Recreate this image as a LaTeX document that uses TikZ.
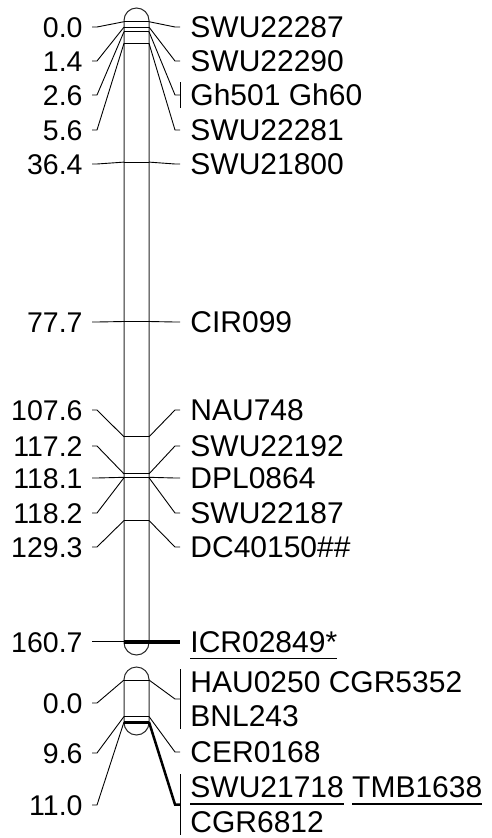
\documentclass[tikz,border=0pt]{standalone}
\usepackage{fontspec}
\newfontfamily\mapfont{Liberation Sans}
\usetikzlibrary{calc}
\newsavebox{\ulbox}
\newcommand{\ulmark}[1]{\sbox{\ulbox}{#1}\rlap{\rule[-7pt]{\wd\ulbox}{1.2pt}}\usebox{\ulbox}}

\begin{document}
\begin{tikzpicture}[x=1pt, y=-1pt, line width=0.9pt,
    chrom/.style={draw=black!85, line width=1pt, rounded corners=12.5pt},
    lab/.style={inner ysep=2pt, text height=21pt, text depth=0pt},
    leftlab/.style={lab, font=\mapfont\fontsize{28.5}{34}\selectfont, anchor=east, inner xsep=9pt},
    rightlab/.style={lab, font=\mapfont\fontsize{30}{34}\selectfont, anchor=west, inner xsep=10pt}]
    \useasboundingbox (0,0) rectangle (491,838);

    % chromosomes
    \draw[chrom] (124,8) rectangle (149,655);
    \draw[chrom] (124,667) rectangle (149,735);

    % marker positions on the bars
    \foreach \m/\y in {a/21.7, b/27.1, c/31.7, d/43.3, e/162.1, f/321.5, g/436.8, h/473.9,
        i/477.3, j/477.7, k/520.5, l/641.7, m/680, n/716.5, o/722} {
        \coordinate (\m L) at (124,\y);
        \coordinate (\m R) at (149,\y);
    }
    \foreach \m in {a,b,c,d,e,f,g,h,i,j,k,m,n}
        \draw (\m L) -- (\m R);

    % positions (cM)
    \foreach \m/\y/\t in {a/27/0.0, b/61/1.4, c/95/2.6, d/130/5.6, e/164/36.4, f/322/77.7,
        g/410/107.6, h/446/117.2, i/478/118.1, j/513/118.2, k/547/129.3, l/641.7/160.7,
        m/703/0.0, n/753/9.6, o/805/11.0} {
        \node[leftlab] (pos\m) at (92,\y) {\t};
        \draw (pos\m.east) -- ++(5,0) -- (\m L);
    }

    % marker names
    \node[rightlab] (swuA) at (180,27) {SWU22287};
    \node[rightlab] (swuB) at (180,61) {SWU22290};
    \node[rightlab] (gh) at (180,95) {Gh501 Gh60};
    \node[rightlab] (swuC) at (180,130) {SWU22281};
    \node[rightlab] (swuD) at (180,164) {SWU21800};
    \node[rightlab] (cir) at (180,322) {CIR099};
    \node[rightlab] (nau) at (180,410) {NAU748};
    \node[rightlab] (swuE) at (180,446) {SWU22192};
    \node[rightlab] (dpl) at (180,478) {DPL0864};
    \node[rightlab] (swuF) at (180,513) {SWU22187};
    \node[rightlab] (dc) at (180,547) {DC40150\#\#};
    \node[rightlab] (icr) at (180,641.7) {\ulmark{ICR02849*}};

    \node[rightlab] (hau) at (180,682) {HAU0250 CGR5352};
    \node[rightlab] (bnl) at (180,716) {BNL243};
    \node[rightlab] (cer) at (180,752) {CER0168};
    \node[rightlab] (swuG) at (180,787) {\ulmark{SWU21718} \ulmark{TMB1638}};
    \node[rightlab] (cgr) at (180,822) {\ulmark{CGR6812}};

    \foreach \m/\t in {a/swuA, b/swuB, c/gh, d/swuC, e/swuD, f/cir, g/nau, h/swuE,
        i/dpl, j/swuF, k/dc, n/cer}
        \draw (\m R) -- ([xshift=-5pt]\t.west) -- (\t.west);

    % grouped names
    \draw (gh.north west) -- (gh.south west);
    \draw (hau.north west) -- (bnl.south west);
    \draw (swuG.north west) -- (cgr.south west);
    \coordinate (hauMid) at ($(hau.west)!0.5!(bnl.west)$);
    \coordinate (swuMid) at ($(swuG.west)!0.5!(cgr.west)$);
    \draw (mR) -- ([xshift=-5pt]hauMid) -- (hauMid);

    % bold markers
    \draw[line width=4pt] (lL) -- (icr.west);
    \draw[line width=3pt] (oL) -- (oR);
    \draw[line width=2.5pt] (oR) -- ([xshift=-5pt]swuMid) -- (swuMid);
\end{tikzpicture}
\end{document}
